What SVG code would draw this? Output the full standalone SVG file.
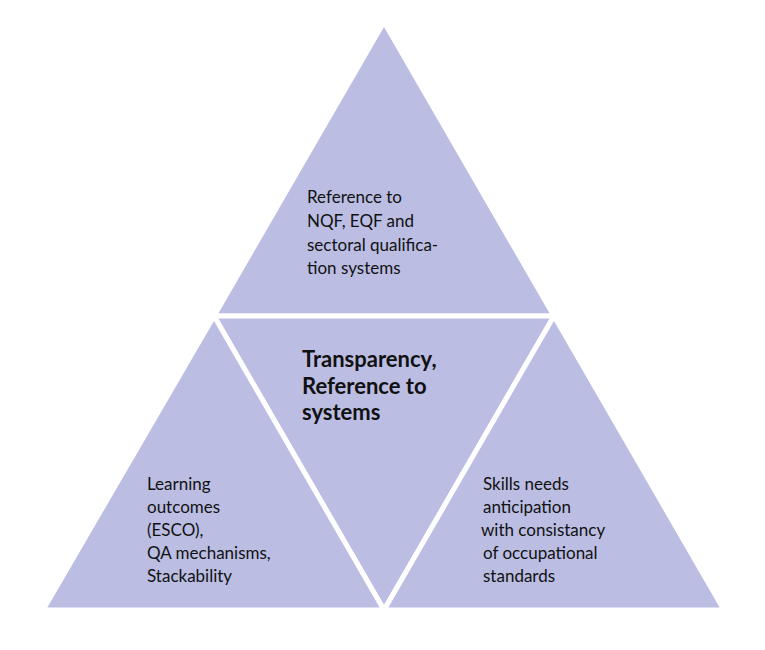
<svg xmlns="http://www.w3.org/2000/svg" width="765" height="650" viewBox="0 0 765 650">
<style>
.tri{fill:#bbbde3;stroke:#fff;stroke-width:5;stroke-linejoin:miter}
.t{font-family:Lato,"Open Sans",sans-serif;font-size:17px;fill:#111}
.b{font-family:Lato,"Open Sans",sans-serif;font-size:22px;font-weight:bold;fill:#111}
</style>
<rect width="765" height="650" fill="#fff"/>
<g id="top"><polygon class="tri" points="384,22 214,316 554,316"/>
<text class="t" x="307" y="203">Reference to</text><text class="t" x="307" y="227">NQF, EQF and</text><text class="t" x="307" y="251">sectoral qualifica-</text><text class="t" x="307" y="274">tion systems</text></g>
<g id="center"><polygon class="tri" points="214,316 554,316 384,610"/>
<text class="b" x="302" y="367">Transparency,</text><text class="b" x="302" y="394">Reference to</text><text class="b" x="302" y="420">systems</text></g>
<g id="left"><polygon class="tri" points="214,316 43,610 384,610"/>
<text class="t" x="147" y="490">Learning</text><text class="t" x="147" y="513">outcomes</text><text class="t" x="147" y="536">(ESCO),</text><text class="t" x="147" y="559">QA mechanisms,</text><text class="t" x="147" y="582">Stackability</text></g>
<g id="right"><polygon class="tri" points="554,316 384,610 724,610"/>
<text class="t" x="483" y="490">Skills needs</text><text class="t" x="483" y="513">anticipation</text><text class="t" x="481" y="536">with consistancy</text><text class="t" x="483" y="559">of occupational</text><text class="t" x="483" y="582">standards</text></g>
<g id="connectors"/>
</svg>
